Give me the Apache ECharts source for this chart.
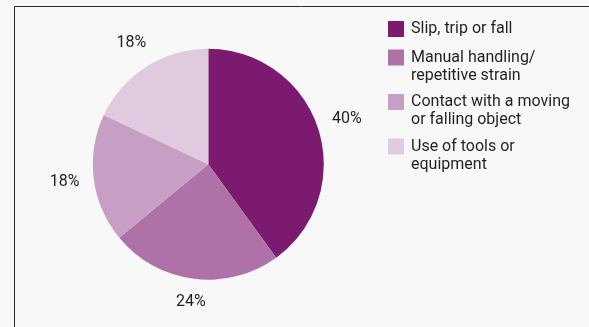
<!DOCTYPE html>
<html>
<head>
<meta charset="utf-8">
<script src="https://cdn.jsdelivr.net/npm/echarts@6/dist/echarts.min.js"></script>
<style>
  html, body { margin: 0; padding: 0; background: #f8f8f8; }
  #chart { width: 589px; height: 327px; }
</style>
</head>
<body>
<div id="chart"></div>
<script>
// Causes of injury and their share of all incidents (%)
const categories = [
  'Slip, trip or fall',
  'Manual handling/\nrepetitive strain',
  'Contact with a moving\nor falling object',
  'Use of tools or\nequipment'
];
const shares = [40, 24, 18, 18];
const sliceColors = ['#7c1a6f', '#ae72a8', '#c79fc4', '#e0cadf'];

// Pie geometry (pixels)
const CX = 208.3, CY = 164.2, R = 115.5;
// Distance from the centre to the nearest edge of each percentage label
const LABEL_GAP_RADIUS = 129;

// Mid-angle of every slice, measured clockwise from 12 o'clock
const total = shares.reduce((a, b) => a + b, 0);
const midAngles = [];
let acc = 0;
shares.forEach(v => {
  midAngles.push((acc + v / 2) / total * 2 * Math.PI);
  acc += v;
});

const chart = echarts.init(document.getElementById('chart'), null, { renderer: 'canvas' });

chart.setOption({
  backgroundColor: '#f8f8f8',
  animation: false,
  graphic: [{
    type: 'polyline',
    silent: true,
    shape: { points: [[14.5, 327], [14.5, 6.5], [589, 6.5]] },
    style: { stroke: '#2b2b2b', lineWidth: 1, fill: null }
  }],
  legend: {
    orient: 'vertical',
    left: 388,
    top: 18,
    padding: 0,
    itemWidth: 16,
    itemHeight: 16,
    itemGap: -9.5,
    icon: 'rect',
    selectedMode: false,
    // a wrapped entry gets an empty leading row so that, once the text block
    // is centred on the swatch, its first row sits level with the swatch
    formatter: name => (name.indexOf('\n') >= 0 ? '\n' + name : name),
    textStyle: {
      fontFamily: 'Roboto',
      fontSize: 16,
      lineHeight: 18,
      color: '#231f20',
      padding: [0, 0, 0, 2]
    },
    // the single-line entry gets a little extra room below it
    data: categories.map((name, i) => i === 0
      ? { name, textStyle: { padding: [2, 0, 2, 2], backgroundColor: 'rgba(0,0,0,0)' } }
      : { name })
  },
  series: [{
    type: 'pie',
    center: [CX, CY],
    radius: R,
    startAngle: 90,
    clockwise: true,
    silent: true,
    itemStyle: { borderWidth: 0 },
    data: categories.map((name, i) => ({
      name,
      value: shares[i],
      itemStyle: { color: sliceColors[i] }
    })),
    label: {
      show: true,
      position: 'inside',
      formatter: '{c}%',
      color: '#231f20',
      fontFamily: 'Roboto',
      fontSize: 16
    },
    labelLine: { show: false },
    labelLayout: function (p) {
      const a = midAngles[p.dataIndex];
      const dx = Math.sin(a), dy = -Math.cos(a);
      const w = p.labelRect.width, h = p.labelRect.height;
      const d = LABEL_GAP_RADIUS + Math.abs(dx) * w / 2 + Math.abs(dy) * h / 2;
      return { x: CX + dx * d, y: CY + dy * d, align: 'center', verticalAlign: 'middle' };
    }
  }]
});
</script>
</body>
</html>
